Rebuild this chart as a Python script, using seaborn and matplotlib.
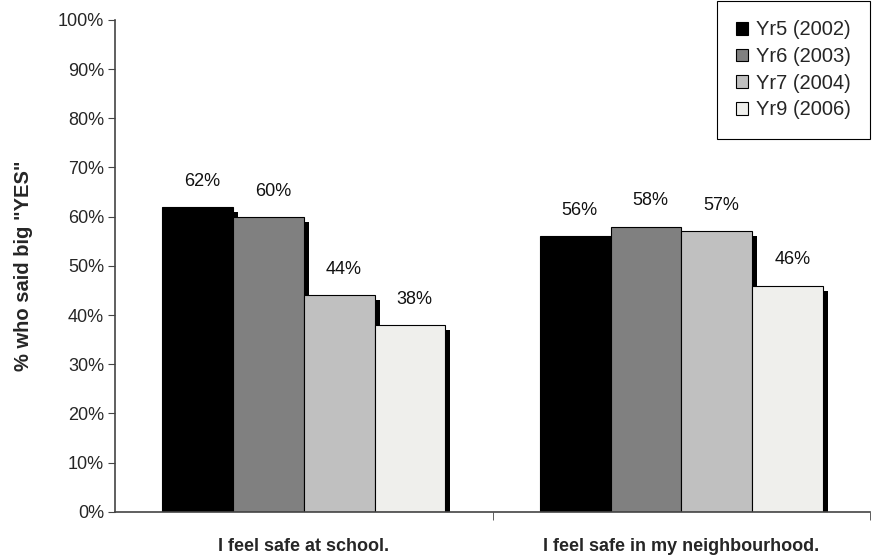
import matplotlib
matplotlib.use("Agg")
import matplotlib.pyplot as plt
import matplotlib.patheffects as pe
from matplotlib.ticker import PercentFormatter
import pandas as pd
import seaborn as sns

categories = ["I feel safe at school.", "I feel safe in my neighbourhood."]
years = ["Yr5 (2002)", "Yr6 (2003)", "Yr7 (2004)", "Yr9 (2006)"]
yr5 = [62, 56]
yr6 = [60, 58]
yr7 = [44, 57]
yr9 = [38, 46]
colors = ["#000000", "#808080", "#c0c0c0", "#efefec"]

rows = []
for yr, vals in zip(years, [yr5, yr6, yr7, yr9]):
    for cat, v in zip(categories, vals):
        rows.append({"item": cat, "year": yr, "pct": v})
df = pd.DataFrame(rows)

sns.set_style("white")
plt.rcParams["font.family"] = ["Liberation Sans", "DejaVu Sans"]

fig = plt.figure(figsize=(8.72, 5.55), dpi=100)
ax = fig.add_axes([0.132, 0.078, 0.866, 0.886])

sns.barplot(data=df, x="item", y="pct", hue="year", order=categories,
            hue_order=years, palette=colors, width=0.75, saturation=1,
            edgecolor="black", linewidth=0.8, errorbar=None, ax=ax)

shadow = [pe.SimplePatchShadow(offset=(3.6, -3.6), shadow_rgbFace="black", alpha=1), pe.Normal()]
for bar in ax.patches:
    bar.set_path_effects(shadow)

for cont in ax.containers:
    for bar in cont:
        h = bar.get_height()
        ax.text(bar.get_x() + bar.get_width() / 2 + 0.012, h + 5.2, f"{h:.0f}%",
                ha="center", va="center", fontsize=13, color="#111111", zorder=5,
                bbox=dict(facecolor="white", edgecolor="none", pad=1))

ax.set_ylim(0, 100)
ax.set_xlim(-0.5, 1.5)
ax.set_yticks(range(0, 101, 10))
ax.yaxis.set_major_formatter(PercentFormatter(decimals=0))
ax.tick_params(axis="y", labelsize=13, length=5, direction="out", left=True, color="#444444", pad=3)
ax.set_xticks([0, 1])
ax.set_xticklabels(categories, fontsize=13, fontweight="bold")
ax.tick_params(axis="x", length=0, pad=19)
ax.set_xticks([0.5, 1.5], minor=True)
ax.tick_params(axis="x", which="minor", length=6, direction="out", bottom=True, color="#444444")
ax.set_xlabel("")
ax.set_ylabel('% who said big "YES"', fontsize=14.5, fontweight="bold", labelpad=18)

for side in ["top", "right"]:
    ax.spines[side].set_visible(False)
for side in ["left", "bottom"]:
    ax.spines[side].set_color("#444444")
    ax.spines[side].set_linewidth(1.2)

leg = ax.legend(loc="upper right", bbox_to_anchor=(1.0, 1.038), fontsize=14.5,
                frameon=True, fancybox=False, edgecolor="black", framealpha=1,
                handlelength=0.6, handleheight=0.6, handletextpad=0.4,
                labelspacing=0.38, borderpad=0.95, borderaxespad=0)
leg.get_frame().set_linewidth(0.8)
for h in leg.legend_handles:
    h.set_edgecolor("black")
    h.set_linewidth(0.8)
    h.set_path_effects([])

fig.savefig("out.png", dpi=100)
